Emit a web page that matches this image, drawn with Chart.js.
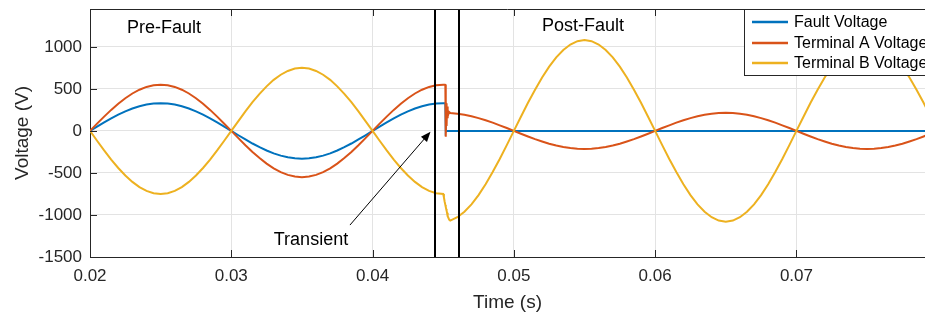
<!DOCTYPE html>
<html><head><meta charset="utf-8">
<script src="https://cdn.jsdelivr.net/npm/chart.js@4.4.0/dist/chart.umd.min.js"></script>
<style>html,body{margin:0;padding:0;background:#fff;overflow:hidden}canvas{display:block}</style>
</head><body>
<canvas id="c" width="925" height="315"></canvas>
<script>
// ---- data ----
const timeS = [
0.0200,0.0205,0.0210,0.0215,0.0220,0.0225,0.0230,0.0235,0.0240,0.0245,
0.0250,0.0255,0.0260,0.0265,0.0270,0.0275,0.0280,0.0285,0.0290,0.0295,
0.0300,0.0305,0.0310,0.0315,0.0320,0.0325,0.0330,0.0335,0.0340,0.0345,
0.0350,0.0355,0.0360,0.0365,0.0370,0.0375,0.0380,0.0385,0.0390,0.0395,
0.0400,0.0405,0.0410,0.0415,0.0420,0.0425,0.0430,0.0435,0.0440,0.0445,
0.0450,
0.04505,0.04510,0.04515,0.04518,0.04521,0.04524,0.04527,0.04530,0.04533,0.04537,0.04542,
0.0455,0.0460,0.0465,0.0470,0.0475,0.0480,0.0485,0.0490,0.0495,
0.0500,0.0505,0.0510,0.0515,0.0520,0.0525,0.0530,0.0535,0.0540,0.0545,
0.0550,0.0555,0.0560,0.0565,0.0570,0.0575,0.0580,0.0585,0.0590,0.0595,
0.0600,0.0605,0.0610,0.0615,0.0620,0.0625,0.0630,0.0635,0.0640,0.0645,
0.0650,0.0655,0.0660,0.0665,0.0670,0.0675,0.0680,0.0685,0.0690,0.0695,
0.0700,0.0705,0.0710,0.0715,0.0720,0.0725,0.0730,0.0735,0.0740,0.0745,
0.0750,0.0755,0.0760,0.0765,0.0770,0.0775,0.0780,0.0785,0.0790,0.0795
];
const faultV = [
0,52,102,150,194,233,267,294,314,326,
330,326,314,294,267,233,194,150,102,52,
0,-52,-102,-150,-194,-233,-267,-294,-314,-326,
-330,-326,-314,-294,-267,-233,-194,-150,-102,-52,
0,52,102,150,194,233,267,294,314,326,
330,
330,330,329,-10,0,0,0,0,0,0,0,
0,0,0,0,0,0,0,0,0,
0,0,0,0,0,0,0,0,0,0,
0,0,0,0,0,0,0,0,0,0,
0,0,0,0,0,0,0,0,0,0,
0,0,0,0,0,0,0,0,0,0,
0,0,0,0,0,0,0,0,0,0,
0,0,0,0,0,0,0,0,0,0
];
const termA = [
0,86,170,250,323,389,445,490,523,543,
550,543,523,490,445,389,323,250,170,86,
0,-86,-170,-250,-323,-389,-445,-490,-523,-543,
-550,-543,-523,-490,-445,-389,-323,-250,-170,-86,
0,86,170,250,323,389,445,490,523,543,
550,
550,549,548,-70,330,60,290,150,250,200,225,
212,204,192,174,152,126,98,66,34,
0,-34,-66,-98,-126,-152,-174,-192,-204,-212,
-215,-212,-204,-192,-174,-152,-126,-98,-66,-34,
0,34,66,98,126,152,174,192,204,212,
215,212,204,192,174,152,126,98,66,34,
0,-34,-66,-98,-126,-152,-174,-192,-204,-212,
-215,-212,-204,-192,-174,-152,-126,-98,-66,-34
];
const termB = [
0,-117,-232,-341,-441,-530,-607,-668,-713,-741,
-750,-741,-713,-668,-607,-530,-441,-341,-232,-117,
0,117,232,341,441,530,607,668,713,741,
750,741,713,668,607,530,441,341,232,117,
0,-117,-232,-341,-441,-530,-607,-668,-713,-741,
-750,
-790,-840,-880,-905,-930,-950,-975,-995,-1015,-1035,-1055,
-1067,-1027,-962,-874,-764,-635,-490,-334,-169,
0,169,334,490,635,764,874,962,1027,1067,
1080,1067,1027,962,874,764,635,490,334,169,
0,-169,-334,-490,-635,-764,-874,-962,-1027,-1067,
-1080,-1067,-1027,-962,-874,-764,-635,-490,-334,-169,
0,169,334,490,635,764,874,962,1027,1067,
1080,1067,1027,962,874,764,635,490,334,169
];
const xTicks = [0.02,0.03,0.04,0.05,0.06,0.07];
const xTickLabels = ['0.02','0.03','0.04','0.05','0.06','0.07'];
const yTicks = [-1500,-1000,-500,0,500,1000];
const yTickLabels = ['-1500','-1000','-500','0','500','1000'];
const seriesNames = ['Fault Voltage','Terminal A Voltage','Terminal B Voltage'];
const seriesColors = ['#0072BD','#D95319','#EDB120'];
const faultMarkers = [0.0444,0.0461];
const xRange = [0.02,0.0791];
const yRange = [-1500,1450];
const notes = [
  {text:'Pre-Fault', x:0.02524, y:1226},
  {text:'Post-Fault', x:0.0549, y:1250},
  {text:'Transient', x:0.03564, y:-1298}
];
const arrowFrom = {x:0.0384, y:-1120};
const arrowTo = {x:0.0441, y:-10};

// ---- chart ----
const FONT = "'Liberation Sans', Arial, Helvetica, sans-serif";
const INK = '#262626';
Chart.defaults.font.family = FONT;
Chart.defaults.color = INK;

function pts(vals){ return timeS.map((t,i)=>({x:t,y:vals[i]})); }

const overlay = {
  id:'overlay',
  afterDatasetsDraw(chart){
    const {ctx, chartArea:ca, scales:{x:xs, y:ys}} = chart;
    ctx.save();
    // fault markers
    ctx.strokeStyle = '#000'; ctx.lineWidth = 2;
    faultMarkers.forEach(v=>{
      const px = Math.round(xs.getPixelForValue(v));
      ctx.beginPath(); ctx.moveTo(px, ca.top); ctx.lineTo(px, ca.bottom); ctx.stroke();
    });
    // top border
    ctx.strokeStyle = INK; ctx.lineWidth = 1;
    ctx.beginPath(); ctx.moveTo(ca.left, ca.top+0.5); ctx.lineTo(ca.right, ca.top+0.5); ctx.stroke();
    // inward ticks
    ctx.beginPath();
    xTicks.forEach(v=>{
      const px = Math.round(xs.getPixelForValue(v))+0.5;
      ctx.moveTo(px, ca.bottom); ctx.lineTo(px, ca.bottom-7);
      ctx.moveTo(px, ca.top); ctx.lineTo(px, ca.top+7);
    });
    yTicks.forEach(v=>{
      const py = Math.round(ys.getPixelForValue(v))+0.5;
      ctx.moveTo(ca.left, py); ctx.lineTo(ca.left+7, py);
    });
    ctx.stroke();
    // notes
    ctx.fillStyle = '#000';
    ctx.font = '18px ' + FONT;
    ctx.textAlign = 'center'; ctx.textBaseline = 'middle';
    notes.forEach(n=>ctx.fillText(n.text, xs.getPixelForValue(n.x), ys.getPixelForValue(n.y)));
    // arrow
    const x1 = xs.getPixelForValue(arrowFrom.x), y1 = ys.getPixelForValue(arrowFrom.y);
    const x2 = xs.getPixelForValue(arrowTo.x), y2 = ys.getPixelForValue(arrowTo.y);
    const ang = Math.atan2(y2-y1, x2-x1);
    ctx.strokeStyle = '#000'; ctx.lineWidth = 1;
    ctx.beginPath(); ctx.moveTo(x1,y1); ctx.lineTo(x2 - 6*Math.cos(ang), y2 - 6*Math.sin(ang)); ctx.stroke();
    ctx.beginPath();
    ctx.moveTo(x2,y2);
    ctx.lineTo(x2 - 10*Math.cos(ang) + 4*Math.sin(ang), y2 - 10*Math.sin(ang) - 4*Math.cos(ang));
    ctx.lineTo(x2 - 10*Math.cos(ang) - 4*Math.sin(ang), y2 - 10*Math.sin(ang) + 4*Math.cos(ang));
    ctx.closePath(); ctx.fill();
    // legend
    const lx = 744.5, ly = ca.top + 0.5, lh = 66;
    ctx.fillStyle = '#fff';
    ctx.fillRect(lx, ly, 300, lh);
    ctx.strokeStyle = INK; ctx.lineWidth = 1;
    ctx.strokeRect(lx, ly, 300, lh);
    ctx.font = '16px ' + FONT;
    ctx.textAlign = 'left'; ctx.textBaseline = 'middle';
    const rows = [ca.top+13, ca.top+34, ca.top+54];
    seriesNames.forEach((name,i)=>{
      ctx.strokeStyle = seriesColors[i]; ctx.lineWidth = 2.5;
      ctx.beginPath(); ctx.moveTo(752, rows[i]); ctx.lineTo(788, rows[i]); ctx.stroke();
      ctx.fillStyle = '#000';
      ctx.fillText(name, 794, rows[i]+1);
    });
    ctx.restore();
  }
};

new Chart(document.getElementById('c'), {
  type:'line',
  data:{
    datasets:[
      {label:seriesNames[0], data:pts(faultV), borderColor:seriesColors[0], borderWidth:2, pointRadius:0, order:3},
      {label:seriesNames[1], data:pts(termA), borderColor:seriesColors[1], borderWidth:2, pointRadius:0, order:2},
      {label:seriesNames[2], data:pts(termB), borderColor:seriesColors[2], borderWidth:2, pointRadius:0, order:1}
    ]
  },
  options:{
    responsive:false, animation:false, devicePixelRatio:1,
    layout:{padding:{top:9,left:0,right:0,bottom:0}},
    plugins:{legend:{display:false}, tooltip:{enabled:false}},
    elements:{line:{tension:0}},
    scales:{
      x:{
        type:'linear', min:xRange[0], max:xRange[1],
        afterBuildTicks(s){ s.ticks = xTicks.map(v=>({value:v})); },
        afterFit(s){ s.height = 58; },
        ticks:{padding:9, maxRotation:0, autoSkip:false, font:{size:17}, color:INK,
          callback(v){ const i = xTicks.findIndex(t=>Math.abs(t-v)<1e-9); return i>=0 ? xTickLabels[i] : ''; }},
        grid:{color:'#e3e3e3', drawTicks:false, lineWidth:1},
        border:{display:true, color:INK, width:1},
        title:{display:true, text:'Time (s)', font:{size:19}, color:INK, padding:{top:0,bottom:1}}
      },
      y:{
        type:'linear', min:yRange[0], max:yRange[1],
        afterBuildTicks(s){ s.ticks = yTicks.map(v=>({value:v})); },
        afterFit(s){ s.width = 90; s.paddingTop = 0; },
        ticks:{padding:8, font:{size:17}, color:INK,
          callback(v){ const i = yTicks.indexOf(v); return i>=0 ? yTickLabels[i] : ''; }},
        grid:{color:'#e3e3e3', drawTicks:false, lineWidth:1},
        border:{display:true, color:INK, width:1},
        title:{display:true, text:'Voltage (V)', font:{size:19}, color:INK, padding:{top:11,bottom:0}}
      }
    }
  },
  plugins:[overlay]
});
</script>
</body></html>
